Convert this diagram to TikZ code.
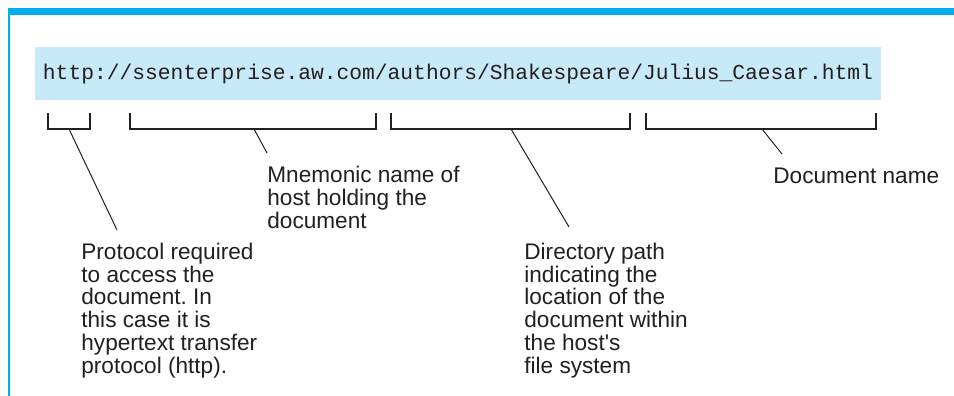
\documentclass[tikz,border=0pt]{standalone}
\usepackage{fontspec}
\setmainfont{Liberation Sans}
\setmonofont{Liberation Mono}
\usetikzlibrary{positioning}
\definecolor{framecyan}{HTML}{00AEEF}
\definecolor{urlblue}{HTML}{C7E9F8}
\definecolor{inkgray}{HTML}{231F20}
\frenchspacing

\begin{document}
\begin{tikzpicture}[x=0.5pt, y=-0.5pt,
    bracket/.style={draw=inkgray, line width=0.55pt},
    leader/.style={draw=inkgray, line width=0.5pt},
    note/.style={anchor=base west, inner sep=0pt, align=left, text=inkgray,
      font=\fontsize{11.3}{11.35}\selectfont}]
  \useasboundingbox (0,0) rectangle (954,396);
  % frame
  \fill[framecyan] (8,8) rectangle (954,15);
  \draw[framecyan, line width=0.7pt] (9,8) -- (9,396);
  % the address
  \node[fill=urlblue, minimum width=423pt, minimum height=26.5pt, inner sep=0pt,
        text=inkgray, font=\ttfamily\fontsize{10.64}{13}\selectfont] (url) at (458,73.5)
    {http://ssenterprise.aw.com/authors/Shakespeare/Julius\_Caesar.html};

  % brackets under the parts
  \draw[bracket] (48,113) |- (90,129) -- (90,113);
  \draw[bracket] (130,113) |- (376,129) -- (376,113);
  \draw[bracket] (391,113) |- (630,129) -- (630,113);
  \draw[bracket] (646,113) |- (876,129) -- (876,113);
  \coordinate (protoTick) at (69,129);
  \coordinate (hostTick) at (254,129);
  \coordinate (pathTick) at (511,129);
  \coordinate (docTick) at (762,129);

  % notes (placed by the baseline of their last line)
  \node[note] (proto) at (81,373) {Protocol required\\to access the\\document. In\\this case it is\\hypertext transfer\\protocol (http).};
  \node[note] (host) at (267,228) {Mnemonic name of\\host holding the\\document};
  \node[note] (path) at (524,373) {Directory path\\indicating the\\location of the\\document within\\the host\textquotesingle s\\file system};
  \node[note] (docname) at (773,183) {Document name};
  \coordinate (protoEnd) at (117,230);
  \coordinate (hostEnd) at (267,153);
  \coordinate (pathEnd) at (569,227);
  \coordinate (docEnd) at (782,154);

  \draw[leader] (protoTick) -- (protoEnd);
  \draw[leader] (hostTick) -- (hostEnd);
  \draw[leader] (pathTick) -- (pathEnd);
  \draw[leader] (docTick) -- (docEnd);
\end{tikzpicture}
\end{document}
